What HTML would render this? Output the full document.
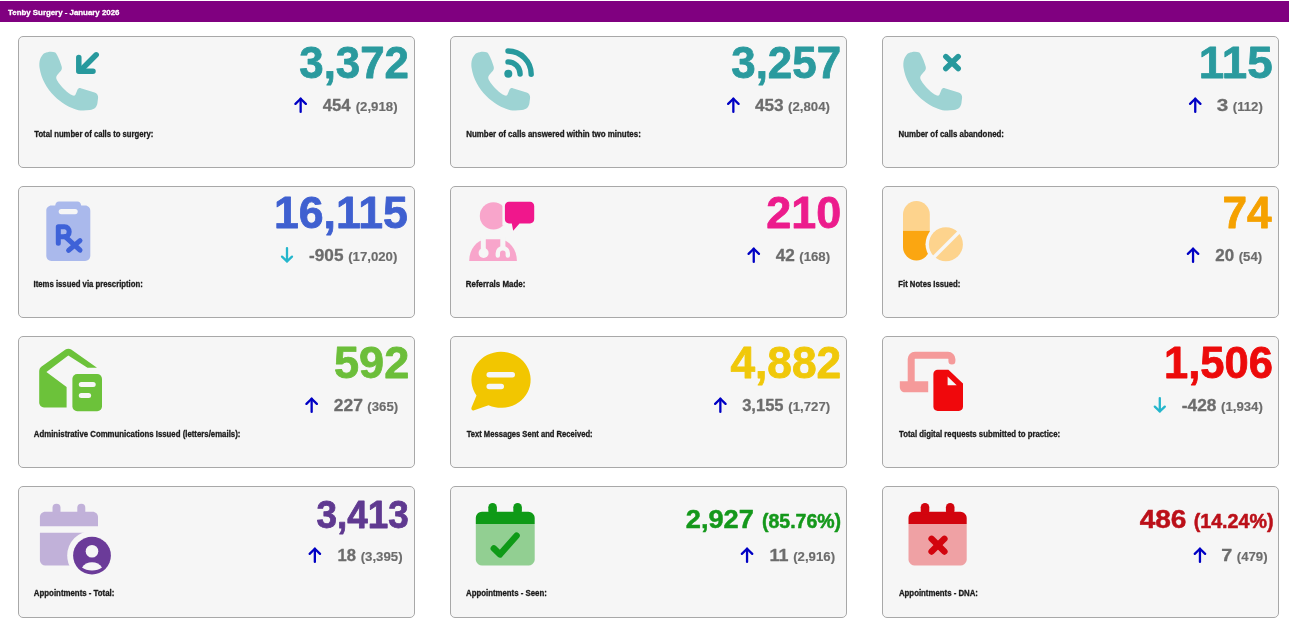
<!DOCTYPE html>
<html><head><meta charset="utf-8"><style>
html,body{margin:0;padding:0;background:#fff;width:1289px;height:619px;overflow:hidden}
svg{display:block;will-change:transform}
text{font-family:"Liberation Sans",sans-serif;font-weight:bold}
</style></head><body>
<svg width="1289" height="619" viewBox="0 0 1289 619">
<rect x="0" y="1" width="1289" height="21" fill="#800080"/>
<text transform="matrix(1.0260 0 0 1 8.07 14.55)" font-size="7.68" fill="#ffffff" stroke="#ffffff" stroke-width="0.30" stroke-linejoin="round">Tenby Surgery - January 2026</text>
<rect x="18.5" y="36.5" width="396" height="131" rx="4.5" fill="#f6f6f6" stroke="#a8a8a8" stroke-width="1"/>
<rect x="450.5" y="36.5" width="396" height="131" rx="4.5" fill="#f6f6f6" stroke="#a8a8a8" stroke-width="1"/>
<rect x="882.5" y="36.5" width="396" height="131" rx="4.5" fill="#f6f6f6" stroke="#a8a8a8" stroke-width="1"/>
<rect x="18.5" y="186.5" width="396" height="131" rx="4.5" fill="#f6f6f6" stroke="#a8a8a8" stroke-width="1"/>
<rect x="450.5" y="186.5" width="396" height="131" rx="4.5" fill="#f6f6f6" stroke="#a8a8a8" stroke-width="1"/>
<rect x="882.5" y="186.5" width="396" height="131" rx="4.5" fill="#f6f6f6" stroke="#a8a8a8" stroke-width="1"/>
<rect x="18.5" y="336.5" width="396" height="131" rx="4.5" fill="#f6f6f6" stroke="#a8a8a8" stroke-width="1"/>
<rect x="450.5" y="336.5" width="396" height="131" rx="4.5" fill="#f6f6f6" stroke="#a8a8a8" stroke-width="1"/>
<rect x="882.5" y="336.5" width="396" height="131" rx="4.5" fill="#f6f6f6" stroke="#a8a8a8" stroke-width="1"/>
<rect x="18.5" y="486.5" width="396" height="131" rx="4.5" fill="#f6f6f6" stroke="#a8a8a8" stroke-width="1"/>
<rect x="450.5" y="486.5" width="396" height="131" rx="4.5" fill="#f6f6f6" stroke="#a8a8a8" stroke-width="1"/>
<rect x="882.5" y="486.5" width="396" height="131" rx="4.5" fill="#f6f6f6" stroke="#a8a8a8" stroke-width="1"/>
<text transform="matrix(0.9913 0 0 1 299.30 78.20)" font-size="44.20" fill="#2a9a9e" stroke="#2a9a9e" stroke-width="0.80" stroke-linejoin="round">3,372</text>
<text transform="matrix(0.9923 0 0 1 731.30 78.20)" font-size="44.20" fill="#2a9a9e" stroke="#2a9a9e" stroke-width="0.80" stroke-linejoin="round">3,257</text>
<text transform="matrix(1.0340 0 0 1 1198.86 78.20)" font-size="44.20" fill="#2a9a9e" stroke="#2a9a9e" stroke-width="0.79" stroke-linejoin="round">115</text>
<text transform="matrix(1.0089 0 0 1 273.92 228.20)" font-size="44.20" fill="#3f60d0" stroke="#3f60d0" stroke-width="0.80" stroke-linejoin="round">16,115</text>
<text transform="matrix(1.0159 0 0 1 766.33 228.20)" font-size="44.20" fill="#ec1c8c" stroke="#ec1c8c" stroke-width="0.79" stroke-linejoin="round">210</text>
<text transform="matrix(1.0005 0 0 1 1222.43 228.20)" font-size="44.20" fill="#f5a100" stroke="#f5a100" stroke-width="0.80" stroke-linejoin="round">74</text>
<text transform="matrix(1.0198 0 0 1 334.05 378.20)" font-size="44.20" fill="#6cbe3a" stroke="#6cbe3a" stroke-width="0.79" stroke-linejoin="round">592</text>
<text transform="matrix(1.0011 0 0 1 730.44 378.20)" font-size="44.20" fill="#f0c80a" stroke="#f0c80a" stroke-width="0.80" stroke-linejoin="round">4,882</text>
<text transform="matrix(0.9839 0 0 1 1164.09 378.20)" font-size="44.20" fill="#ec0a0a" stroke="#ec0a0a" stroke-width="0.81" stroke-linejoin="round">1,506</text>
<text transform="matrix(0.9532 0 0 1 316.38 528.20)" font-size="38.70" fill="#5f3990" stroke="#5f3990" stroke-width="0.82" stroke-linejoin="round">3,413</text>
<text transform="matrix(1.0375 0 0 1 685.80 528.35)" font-size="26.23" fill="#14981b" stroke="#14981b" stroke-width="0.49" stroke-linejoin="round">2,927</text>
<text transform="matrix(0.9621 0 0 1 761.97 528.35)" font-size="20.29" fill="#14981b" stroke="#14981b" stroke-width="0.51" stroke-linejoin="round">(85.76%)</text>
<text transform="matrix(1.0693 0 0 1 1139.63 528.35)" font-size="26.23" fill="#bb1019" stroke="#bb1019" stroke-width="0.48" stroke-linejoin="round">486</text>
<text transform="matrix(0.9708 0 0 1 1193.67 528.35)" font-size="20.29" fill="#bb1019" stroke="#bb1019" stroke-width="0.51" stroke-linejoin="round">(14.24%)</text>
<text transform="matrix(0.9750 0 0 1 355.70 110.83)" font-size="13.55" fill="#6c6c6c" stroke="#6c6c6c" stroke-width="0.15" stroke-linejoin="round">(2,918)</text>
<text transform="matrix(0.9940 0 0 1 322.80 110.75)" font-size="16.81" fill="#6c6c6c" stroke="#6c6c6c" stroke-width="0.30" stroke-linejoin="round">454</text>
<g transform="translate(294.30,96.80)" stroke="#0000c4" stroke-width="2.3" fill="none" stroke-linecap="round" stroke-linejoin="round"><path d="M6.35 15.1 V1.9"/><path d="M1.15 7.1 L6.35 1.9 L11.55 7.1"/></g>
<text transform="matrix(0.9750 0 0 1 788.10 110.83)" font-size="13.55" fill="#6c6c6c" stroke="#6c6c6c" stroke-width="0.15" stroke-linejoin="round">(2,804)</text>
<text transform="matrix(1.0235 0 0 1 754.89 110.75)" font-size="16.81" fill="#6c6c6c" stroke="#6c6c6c" stroke-width="0.30" stroke-linejoin="round">453</text>
<g transform="translate(727.00,96.80)" stroke="#0000c4" stroke-width="2.3" fill="none" stroke-linecap="round" stroke-linejoin="round"><path d="M6.35 15.1 V1.9"/><path d="M1.15 7.1 L6.35 1.9 L11.55 7.1"/></g>
<text transform="matrix(0.9750 0 0 1 1232.76 110.83)" font-size="13.55" fill="#6c6c6c" stroke="#6c6c6c" stroke-width="0.15" stroke-linejoin="round">(112)</text>
<text transform="matrix(1.2315 0 0 1 1216.83 110.75)" font-size="16.81" fill="#6c6c6c" stroke="#6c6c6c" stroke-width="0.27" stroke-linejoin="round">3</text>
<g transform="translate(1188.90,96.80)" stroke="#0000c4" stroke-width="2.3" fill="none" stroke-linecap="round" stroke-linejoin="round"><path d="M6.35 15.1 V1.9"/><path d="M1.15 7.1 L6.35 1.9 L11.55 7.1"/></g>
<text transform="matrix(0.9750 0 0 1 348.17 260.82)" font-size="13.55" fill="#6c6c6c" stroke="#6c6c6c" stroke-width="0.15" stroke-linejoin="round">(17,020)</text>
<text transform="matrix(1.0223 0 0 1 309.06 260.75)" font-size="16.81" fill="#6c6c6c" stroke="#6c6c6c" stroke-width="0.30" stroke-linejoin="round">-905</text>
<g transform="translate(280.50,246.80)" stroke="#24b6cc" stroke-width="2.3" fill="none" stroke-linecap="round" stroke-linejoin="round"><path d="M6.5 1.3 V14.6"/><path d="M1.5 9.8 L6.5 14.6 L11.5 9.8"/></g>
<text transform="matrix(0.9750 0 0 1 799.24 260.82)" font-size="13.55" fill="#6c6c6c" stroke="#6c6c6c" stroke-width="0.15" stroke-linejoin="round">(168)</text>
<text transform="matrix(1.0217 0 0 1 775.69 260.75)" font-size="16.81" fill="#6c6c6c" stroke="#6c6c6c" stroke-width="0.30" stroke-linejoin="round">42</text>
<g transform="translate(747.40,246.80)" stroke="#0000c4" stroke-width="2.3" fill="none" stroke-linecap="round" stroke-linejoin="round"><path d="M6.35 15.1 V1.9"/><path d="M1.15 7.1 L6.35 1.9 L11.55 7.1"/></g>
<text transform="matrix(0.9750 0 0 1 1238.67 260.82)" font-size="13.55" fill="#6c6c6c" stroke="#6c6c6c" stroke-width="0.15" stroke-linejoin="round">(54)</text>
<text transform="matrix(1.0088 0 0 1 1215.36 260.75)" font-size="16.81" fill="#6c6c6c" stroke="#6c6c6c" stroke-width="0.30" stroke-linejoin="round">20</text>
<g transform="translate(1186.70,246.80)" stroke="#0000c4" stroke-width="2.3" fill="none" stroke-linecap="round" stroke-linejoin="round"><path d="M6.35 15.1 V1.9"/><path d="M1.15 7.1 L6.35 1.9 L11.55 7.1"/></g>
<text transform="matrix(0.9750 0 0 1 367.34 410.82)" font-size="13.55" fill="#6c6c6c" stroke="#6c6c6c" stroke-width="0.15" stroke-linejoin="round">(365)</text>
<text transform="matrix(1.0371 0 0 1 333.84 410.75)" font-size="16.81" fill="#6c6c6c" stroke="#6c6c6c" stroke-width="0.29" stroke-linejoin="round">227</text>
<g transform="translate(305.30,396.80)" stroke="#0000c4" stroke-width="2.3" fill="none" stroke-linecap="round" stroke-linejoin="round"><path d="M6.35 15.1 V1.9"/><path d="M1.15 7.1 L6.35 1.9 L11.55 7.1"/></g>
<text transform="matrix(0.9750 0 0 1 788.30 410.82)" font-size="13.55" fill="#6c6c6c" stroke="#6c6c6c" stroke-width="0.15" stroke-linejoin="round">(1,727)</text>
<text transform="matrix(0.9855 0 0 1 742.14 410.75)" font-size="16.81" fill="#6c6c6c" stroke="#6c6c6c" stroke-width="0.30" stroke-linejoin="round">3,155</text>
<g transform="translate(714.00,396.80)" stroke="#0000c4" stroke-width="2.3" fill="none" stroke-linecap="round" stroke-linejoin="round"><path d="M6.35 15.1 V1.9"/><path d="M1.15 7.1 L6.35 1.9 L11.55 7.1"/></g>
<text transform="matrix(0.9750 0 0 1 1221.00 410.82)" font-size="13.55" fill="#6c6c6c" stroke="#6c6c6c" stroke-width="0.15" stroke-linejoin="round">(1,934)</text>
<text transform="matrix(1.0291 0 0 1 1181.76 410.75)" font-size="16.81" fill="#6c6c6c" stroke="#6c6c6c" stroke-width="0.30" stroke-linejoin="round">-428</text>
<g transform="translate(1153.30,396.80)" stroke="#24b6cc" stroke-width="2.3" fill="none" stroke-linecap="round" stroke-linejoin="round"><path d="M6.5 1.3 V14.6"/><path d="M1.5 9.8 L6.5 14.6 L11.5 9.8"/></g>
<text transform="matrix(0.9750 0 0 1 360.70 560.82)" font-size="13.55" fill="#6c6c6c" stroke="#6c6c6c" stroke-width="0.15" stroke-linejoin="round">(3,395)</text>
<text transform="matrix(0.9908 0 0 1 337.55 560.75)" font-size="16.81" fill="#6c6c6c" stroke="#6c6c6c" stroke-width="0.30" stroke-linejoin="round">18</text>
<g transform="translate(308.50,546.80)" stroke="#0000c4" stroke-width="2.3" fill="none" stroke-linecap="round" stroke-linejoin="round"><path d="M6.35 15.1 V1.9"/><path d="M1.15 7.1 L6.35 1.9 L11.55 7.1"/></g>
<text transform="matrix(0.9750 0 0 1 793.20 560.82)" font-size="13.55" fill="#6c6c6c" stroke="#6c6c6c" stroke-width="0.15" stroke-linejoin="round">(2,916)</text>
<text transform="matrix(1.0664 0 0 1 769.57 560.75)" font-size="16.81" fill="#6c6c6c" stroke="#6c6c6c" stroke-width="0.29" stroke-linejoin="round">11</text>
<g transform="translate(740.70,546.80)" stroke="#0000c4" stroke-width="2.3" fill="none" stroke-linecap="round" stroke-linejoin="round"><path d="M6.35 15.1 V1.9"/><path d="M1.15 7.1 L6.35 1.9 L11.55 7.1"/></g>
<text transform="matrix(0.9750 0 0 1 1236.74 560.82)" font-size="13.55" fill="#6c6c6c" stroke="#6c6c6c" stroke-width="0.15" stroke-linejoin="round">(479)</text>
<text transform="matrix(1.1798 0 0 1 1221.36 560.75)" font-size="16.81" fill="#6c6c6c" stroke="#6c6c6c" stroke-width="0.28" stroke-linejoin="round">7</text>
<g transform="translate(1193.60,546.80)" stroke="#0000c4" stroke-width="2.3" fill="none" stroke-linecap="round" stroke-linejoin="round"><path d="M6.35 15.1 V1.9"/><path d="M1.15 7.1 L6.35 1.9 L11.55 7.1"/></g>
<text transform="matrix(0.9330 0 0 1 34.27 137.05)" font-size="8.26" fill="#1a1a1a" stroke="#1a1a1a" stroke-width="0.31" stroke-linejoin="round">Total number of calls to surgery:</text>
<text transform="matrix(0.9617 0 0 1 466.23 137.05)" font-size="8.26" fill="#1a1a1a" stroke="#1a1a1a" stroke-width="0.31" stroke-linejoin="round">Number of calls answered within two minutes:</text>
<text transform="matrix(0.9504 0 0 1 898.54 137.05)" font-size="8.26" fill="#1a1a1a" stroke="#1a1a1a" stroke-width="0.31" stroke-linejoin="round">Number of calls abandoned:</text>
<text transform="matrix(0.9377 0 0 1 33.55 287.05)" font-size="8.26" fill="#1a1a1a" stroke="#1a1a1a" stroke-width="0.31" stroke-linejoin="round">Items issued via prescription:</text>
<text transform="matrix(0.9615 0 0 1 465.83 287.05)" font-size="8.26" fill="#1a1a1a" stroke="#1a1a1a" stroke-width="0.31" stroke-linejoin="round">Referrals Made:</text>
<text transform="matrix(0.9322 0 0 1 898.35 287.05)" font-size="8.26" fill="#1a1a1a" stroke="#1a1a1a" stroke-width="0.31" stroke-linejoin="round">Fit Notes Issued:</text>
<text transform="matrix(0.9462 0 0 1 33.85 437.05)" font-size="8.26" fill="#1a1a1a" stroke="#1a1a1a" stroke-width="0.31" stroke-linejoin="round">Administrative Communications Issued (letters/emails):</text>
<text transform="matrix(0.9222 0 0 1 466.67 437.05)" font-size="8.26" fill="#1a1a1a" stroke="#1a1a1a" stroke-width="0.31" stroke-linejoin="round">Text Messages Sent and Received:</text>
<text transform="matrix(0.9426 0 0 1 899.07 437.05)" font-size="8.26" fill="#1a1a1a" stroke="#1a1a1a" stroke-width="0.31" stroke-linejoin="round">Total digital requests submitted to practice:</text>
<text transform="matrix(0.9531 0 0 1 33.85 596.05)" font-size="8.26" fill="#1a1a1a" stroke="#1a1a1a" stroke-width="0.31" stroke-linejoin="round">Appointments - Total:</text>
<text transform="matrix(0.9473 0 0 1 466.05 596.05)" font-size="8.26" fill="#1a1a1a" stroke="#1a1a1a" stroke-width="0.31" stroke-linejoin="round">Appointments - Seen:</text>
<text transform="matrix(0.9481 0 0 1 898.95 596.05)" font-size="8.26" fill="#1a1a1a" stroke="#1a1a1a" stroke-width="0.31" stroke-linejoin="round">Appointments - DNA:</text>
<path transform="translate(0,0)" fill="#9dd3d3" d="M44.6 53.2 C48 51.4 52.5 51.2 55.3 52.6 C57.5 55 60.5 62 61.8 67 C62.2 69 61.3 70.6 59.8 72 L57.2 75 C56 76.5 55.9 78.2 57 80.2 C61 87 67 92.5 73 95.6 C74 95.9 74.8 95.6 75.4 94.8 L77.6 89.6 C78.2 88.4 79.4 87.9 80.8 88.2 L94.6 92.4 C97 93.1 98.3 95.2 98.1 97.8 L97.4 103.2 C97 107 94 109.6 90 110 C86 110.5 82 110.6 78.5 110.2 C62 106 43 90 39.6 68 C38.8 62 40 56 45 52.8 Z"/>
<g stroke="#27999d" stroke-width="5.5" stroke-linecap="round" stroke-linejoin="round" fill="none"><path d="M96.2 54.8 L81 70"/><path d="M78.8 57.6 V71.2 H93"/></g>
<path transform="translate(432,0)" fill="#9dd3d3" d="M44.6 53.2 C48 51.4 52.5 51.2 55.3 52.6 C57.5 55 60.5 62 61.8 67 C62.2 69 61.3 70.6 59.8 72 L57.2 75 C56 76.5 55.9 78.2 57 80.2 C61 87 67 92.5 73 95.6 C74 95.9 74.8 95.6 75.4 94.8 L77.6 89.6 C78.2 88.4 79.4 87.9 80.8 88.2 L94.6 92.4 C97 93.1 98.3 95.2 98.1 97.8 L97.4 103.2 C97 107 94 109.6 90 110 C86 110.5 82 110.6 78.5 110.2 C62 106 43 90 39.6 68 C38.8 62 40 56 45 52.8 Z"/>
<g stroke="#27999d" stroke-width="5.4" stroke-linecap="round" fill="none"><path d="M508 61.9 A12.1 12.1 0 0 1 520.1 74"/><path d="M508 51 A23.2 23.2 0 0 1 531.2 74.2"/></g><circle cx="508.3" cy="73.8" r="4" fill="#27999d"/>
<path transform="translate(864,0)" fill="#9dd3d3" d="M44.6 53.2 C48 51.4 52.5 51.2 55.3 52.6 C57.5 55 60.5 62 61.8 67 C62.2 69 61.3 70.6 59.8 72 L57.2 75 C56 76.5 55.9 78.2 57 80.2 C61 87 67 92.5 73 95.6 C74 95.9 74.8 95.6 75.4 94.8 L77.6 89.6 C78.2 88.4 79.4 87.9 80.8 88.2 L94.6 92.4 C97 93.1 98.3 95.2 98.1 97.8 L97.4 103.2 C97 107 94 109.6 90 110 C86 110.5 82 110.6 78.5 110.2 C62 106 43 90 39.6 68 C38.8 62 40 56 45 52.8 Z"/>
<g stroke="#27999d" stroke-width="5.5" stroke-linecap="round" fill="none"><path d="M945.8 56.6 L958.2 68.6"/><path d="M958.2 56.6 L945.8 68.6"/></g>
<path fill="#aab9ec" d="M59 201.6 H77.4 C79.5 201.6 80.8 203.2 81.2 205.6 H85.2 C88 205.6 90.3 207.9 90.3 210.7 V255.8 C90.3 258.6 88 261 85.2 261 H51.4 C48.6 261 46.3 258.6 46.3 255.8 V210.7 C46.3 207.9 48.6 205.6 51.4 205.6 H55.2 C55.6 203.2 56.9 201.6 59 201.6 Z"/>
<rect x="58.7" y="209" width="19" height="5.2" rx="2.6" fill="#f6f6f6"/>
<g stroke="#3e62d8" stroke-width="5" stroke-linecap="round" stroke-linejoin="round" fill="none"><path d="M58.3 243.2 V226.7 H64.6 A4.6 5.05 0 0 1 64.6 236.8 H60"/><path d="M65.2 236.6 L80 250.2"/><path d="M80 240.6 L68.6 250.4"/></g>
<circle cx="493.4" cy="215.9" r="13.6" fill="#f8a5cb"/>
<path fill="#f6f6f6" d="M502.4 199.6 H536.5 V225.5 H521 L512 233 L509.5 225.5 H502.4 Z"/>
<path fill="#f0178c" d="M509 201.7 H530 C532.3 201.7 534.2 203.6 534.2 205.9 V219.3 C534.2 221.6 532.3 223.5 530 223.5 H519.5 L513.2 230.8 L511.8 223.5 H509 C506.7 223.5 504.9 221.6 504.9 219.3 V205.9 C504.9 203.6 506.7 201.7 509 201.7 Z"/>
<path fill="#f8a5cb" d="M469.2 260.9 C469.2 249 476.5 240.6 485.5 239.2 H500.5 C509.5 240.6 516.9 249 516.9 260.9 Z"/>
<g fill="#f6f6f6"><rect x="480.8" y="237" width="5" height="12"/><circle cx="483.6" cy="253" r="5"/><rect x="500.3" y="237" width="5.1" height="11.5"/></g>
<path d="M497.8 255.6 V253.2 A5 5 0 0 1 507.8 253.2 V255.6" stroke="#f6f6f6" stroke-width="4.4" stroke-linecap="round" fill="none"/>
<path fill="#fdd38d" d="M903 230.8 V214.4 A13.4 13.4 0 0 1 929.8 214.4 V230.8 Z"/>
<path fill="#fba611" d="M903 230.8 V247.1 A13.4 13.4 0 0 0 929.8 247.1 V230.8 Z"/>
<circle cx="945.9" cy="244.2" r="20.4" fill="#f6f6f6"/>
<circle cx="945.9" cy="244.2" r="17" fill="#fdd38d"/>
<path d="M960.5 230.5 L933.5 257.5" stroke="#f6f6f6" stroke-width="3.4"/>
<path fill="#6cc23a" d="M44 407.4 H66.6 V387 L46.4 372 L68.3 355.6 L87.5 367.8 H97 L71.2 349.6 C69.6 348.4 67.2 348.4 65.5 349.6 L41.6 366.4 C40 367.5 39.2 369.3 39.2 371.2 V402.6 C39.2 405.2 41.4 407.4 44 407.4 Z"/>
<rect x="72.4" y="374" width="29.6" height="37.2" rx="4.8" fill="#6cc23a"/>
<g stroke="#f6f6f6" stroke-width="5" stroke-linecap="round"><path d="M81.3 384.4 H93.2"/><path d="M81.3 395.5 H88.6"/></g>
<path fill="#f2c600" d="M476.5 395.5 A29.6 28 0 1 1 488.5 405.2 L474.2 410.3 C472.2 411 470.8 409.4 471.5 407.6 Z"/>
<g stroke="#f6f6f6" stroke-width="5.4" stroke-linecap="round"><path d="M489.2 374.8 H512.3"/><path d="M489.2 386.5 H501.3"/></g>
<g stroke="#f59a9a" stroke-width="7" fill="none" stroke-linejoin="round" stroke-linecap="round"><path d="M911.2 383 V359 C911.2 357 912.8 355.2 915 355.2 H948 C950.2 355.2 951.9 357 951.9 359 V361"/></g>
<path fill="#f59a9a" d="M899.8 381.3 H928.2 V392.3 H905 C902 392.3 899.8 390 899.8 387 Z"/>
<path fill="#f6f6f6" d="M931 367.5 H950 L965.5 382.5 V413.5 H931 Z"/>
<path fill="#f0080c" d="M937.6 369.7 H948.4 L963 383.5 V406.8 C963 409.1 961.1 411 958.8 411 H937.6 C935.3 411 933.4 409.1 933.4 406.8 V373.9 C933.4 371.6 935.3 369.7 937.6 369.7 Z"/>
<path fill="#f6f6f6" d="M947.6 376.6 V385.2 H956.7 Z"/>
<path fill="#c1b1d9" d="M39.9 526.3 V517 C39.9 514 42.3 511.7 45.3 511.7 H92.6 C95.6 511.7 98 514 98 517 V526.3 Z"/>
<rect x="52.5" y="503.7" width="8" height="12" rx="4" fill="#c1b1d9"/><rect x="77.3" y="503.7" width="8" height="12" rx="4" fill="#c1b1d9"/>
<path fill="#c1b1d9" d="M39.9 532.8 H98 V560 C98 563 95.6 565.5 92.6 565.5 H45.3 C42.3 565.5 39.9 563 39.9 560 Z"/>
<circle cx="92" cy="555.6" r="24.8" fill="#f6f6f6"/>
<circle cx="92" cy="555.6" r="18.9" fill="#6b3b99"/>
<circle cx="92" cy="551.2" r="6.3" fill="#f6f6f6"/>
<path fill="#f6f6f6" d="M82 567.6 C84 564 88 562.2 92 562.2 C96 562.2 100 564 102 567.6 C99.5 569.7 96 570.6 92 570.6 C88 570.6 84.5 569.7 82 567.6 Z"/>
<path fill="#92cf92" d="M475.8 524 H534.7 V559.3 C534.7 562.7 531.9000000000001 565.5 528.5 565.5 H482.0 C478.6 565.5 475.8 562.7 475.8 559.3 Z"/><path fill="#0f9a17" d="M475.8 524 V517.9 C475.8 514.5 478.6 511.7 482.0 511.7 H528.5 C531.3000000000001 511.7 534.7 514.5 534.7 517.9 V524 Z"/><rect x="488.3" y="503" width="8.6" height="12" rx="4.3" fill="#0f9a17"/><rect x="513.3" y="503" width="8.6" height="12" rx="4.3" fill="#0f9a17"/>
<path d="M493.8 548.4 L500 554.4 L516.6 535.6" stroke="#0f9a17" stroke-width="6.4" stroke-linecap="round" stroke-linejoin="round" fill="none"/>
<path fill="#efa1a4" d="M908.5 524 H966.7 V559.3 C966.7 562.7 963.9000000000001 565.5 960.5 565.5 H914.7 C911.3 565.5 908.5 562.7 908.5 559.3 Z"/><path fill="#d2040e" d="M908.5 524 V517.9 C908.5 514.5 911.3 511.7 914.7 511.7 H960.5 C963.3000000000001 511.7 966.7 514.5 966.7 517.9 V524 Z"/><rect x="920.7" y="503" width="8.6" height="12" rx="4.3" fill="#d2040e"/><rect x="945.9" y="503" width="8.6" height="12" rx="4.3" fill="#d2040e"/>
<g stroke="#d2040e" stroke-width="6.4" stroke-linecap="round" fill="none"><path d="M931.6 538.8 L944.4 551.6"/><path d="M944.4 538.8 L931.6 551.6"/></g>
</svg>
</body></html>
